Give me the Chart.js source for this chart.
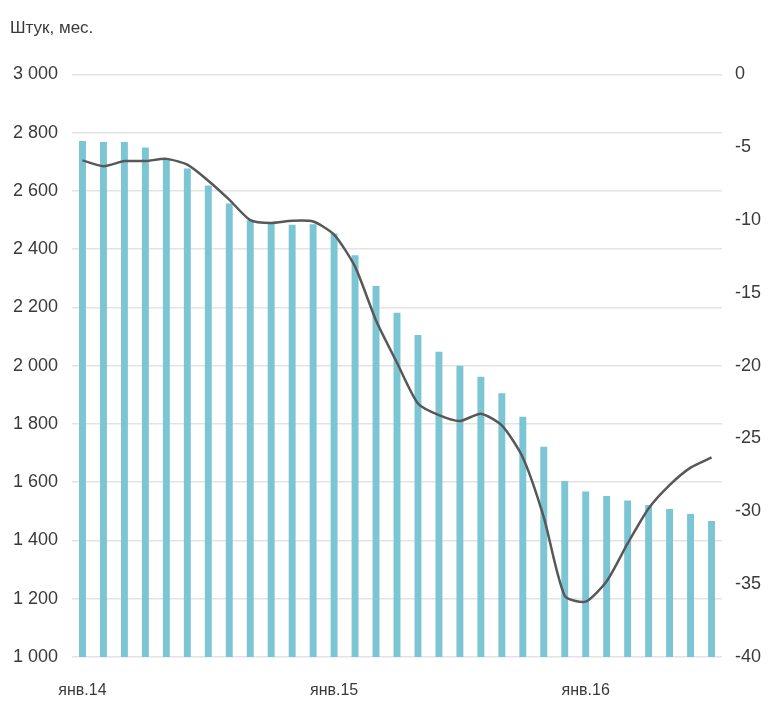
<!DOCTYPE html>
<html>
<head>
  <meta charset="utf-8">
  <style>
    body {
      margin: 0;
      padding: 0;
      background: #fff;
    }
    #chart {
      display: block;
    }
  </style>
  <script src="https://cdn.jsdelivr.net/npm/chart.js"></script>
</head>
<body>
  <canvas id="chart" width="768" height="708"></canvas>

  <script>
    // Months Jan 2014 - Jul 2016
    const months = [
      "янв.14", "фев.14", "мар.14", "апр.14", "май.14", "июн.14", "июл.14", "авг.14", "сен.14", "окт.14", "ноя.14", "дек.14",
      "янв.15", "фев.15", "мар.15", "апр.15", "май.15", "июн.15", "июл.15", "авг.15", "сен.15", "окт.15", "ноя.15", "дек.15",
      "янв.16", "фев.16", "мар.16", "апр.16", "май.16", "июн.16", "июл.16"
    ];

    // Bars, left axis (штук в мес.)
    const units = [
      2771, 2768, 2768, 2749, 2708, 2677, 2619, 2557, 2499, 2488, 2484, 2486,
      2454, 2379, 2274, 2182, 2105, 2048, 2000, 1962, 1905, 1825, 1722, 1604,
      1568, 1553, 1537, 1522, 1508, 1491, 1467
    ];

    // Line, right axis
    const change = [
      -5.9, -6.3, -5.95, -5.95, -5.8, -6.2, -7.3, -8.6, -10.0, -10.2, -10.05, -10.1,
      -11.0, -13.2, -16.9, -19.8, -22.6, -23.4, -23.8, -23.3, -24.1, -26.3, -30.4, -35.8,
      -36.2, -34.8, -32.2, -29.8, -28.2, -27.0, -26.3
    ];

    const titleText = "Штук, мес.";
    const fontFamily = "'Liberation Sans', Arial, sans-serif";
    const textColor = "#3a3a3a";

    // thousands with a space: 3 000
    function fmtThousands(v) {
      const s = String(Math.round(v));
      return s.length > 3 ? s.slice(0, s.length - 3) + " " + s.slice(-3) : s;
    }

    const ctx = document.getElementById("chart").getContext("2d");
    const chart = new Chart(ctx, {
      data: {
        labels: months,
        datasets: [
          {
            type: "line",
            label: "change",
            data: change,
            yAxisID: "y1",
            borderColor: "#585858",
            borderWidth: 2.5,
            pointRadius: 0,
            tension: 0.22,
            fill: false,
            order: 1
          },
          {
            type: "bar",
            label: "units",
            data: units,
            yAxisID: "y",
            backgroundColor: "#7cc5d4",
            barPercentage: 0.33,
            categoryPercentage: 1.0,
            order: 2
          }
        ]
      },
      options: {
        responsive: false,
        animation: false,
        layout: {
          padding: { left: 10, right: 0, top: 0, bottom: 0 }
        },
        scales: {
          x: {
            offset: true,
            grid: { display: false, drawTicks: false },
            border: { display: false },
            ticks: {
              autoSkip: false,
              maxRotation: 0,
              padding: 24,
              color: textColor,
              font: { family: fontFamily, size: 16 },
              callback: function (value, index) {
                const lab = months[index];
                return lab.startsWith("янв") ? lab : "";
              }
            },
            afterFit: function (scale) { scale.height = 51; }
          },
          y: {
            position: "left",
            min: 1000,
            max: 3000,
            grid: { color: "#e3e3e3", lineWidth: 1.5, drawTicks: false },
            border: { display: false },
            ticks: {
              stepSize: 200,
              padding: 14,
              color: textColor,
              font: { family: fontFamily, size: 18 },
              callback: function (value) { return fmtThousands(value); }
            },
            afterFit: function (scale) { scale.width = 62; }
          },
          y1: {
            position: "right",
            min: -40,
            max: 0,
            grid: { drawOnChartArea: false, drawTicks: false },
            border: { display: false },
            ticks: {
              stepSize: 5,
              padding: 13,
              color: textColor,
              font: { family: fontFamily, size: 18 }
            },
            afterFit: function (scale) { scale.width = 46; }
          }
        },
        plugins: {
          legend: { display: false },
          tooltip: { enabled: false },
          title: {
            display: true,
            text: titleText,
            align: "start",
            color: textColor,
            font: { family: fontFamily, size: 17, weight: "normal" },
            padding: { top: 18, bottom: 36 }
          }
        }
      }
    });
  </script>
</body>
</html>
